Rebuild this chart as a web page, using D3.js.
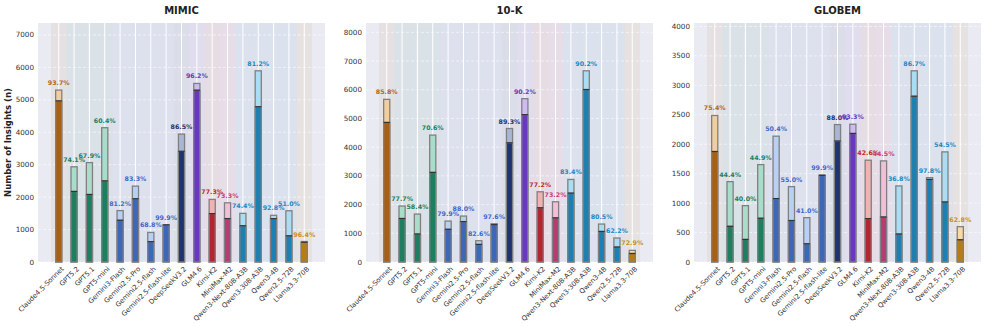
<!DOCTYPE html>
<html>
<head>
<meta charset="utf-8">
<script src="https://cdn.jsdelivr.net/npm/d3@7"></script>
<style>
  body { margin: 0; background: #fff; }
  svg { display: block; font-family: "DejaVu Sans", sans-serif; }
</style>
</head>
<body>
<div id="chart"></div>
<script>
const models = ["Claude4.5-Sonnet", "GPT5.2", "GPT5.1", "GPT5-mini", "Gemini3-Flash", "Gemini2.5-Pro",
  "Gemini2.5-flash", "Gemini2.5-flash-lite", "DeepSeekV3.2", "GLM4.6", "Kimi-K2", "MiniMax-M2",
  "Qwen3-Next-80B-A3B", "Qwen3-30B-A3B", "Qwen3-4B", "Qwen2.5-72B", "Llama3.3-70B"];
const family = ["claude", "gpt", "gpt", "gpt", "gemini", "gemini", "gemini", "gemini", "deepseek", "glm",
  "kimi", "minimax", "qwen", "qwen", "qwen", "qwen", "llama"];

// total insights / valid insights / label
const mimicTotal = [5300, 2935, 3065, 4140, 1585, 2340, 912, 1145, 3945, 5505, 1930, 1825, 1500, 5895, 1440, 1580, 632];
const mimicValid = [4966, 2175, 2081, 2500, 1287, 1949, 627, 1144, 3412, 5296, 1492, 1338, 1116, 4787, 1336, 806, 609];
const mimicPct = ["93.7%", "74.1%", "67.9%", "60.4%", "81.2%", "83.3%", "68.8%", "99.9%", "86.5%", "96.2%", "77.3%", "73.3%", "74.4%", "81.2%", "92.8%", "51.0%", "96.4%"];

const tenkTotal = [5665, 1950, 1670, 4420, 1426, 1600, 742, 1332, 4650, 5690, 2446, 2098, 2876, 6660, 1322, 836, 406];
const tenkValid = [4861, 1515, 975, 3121, 1139, 1408, 613, 1300, 4152, 5132, 1888, 1536, 2399, 6007, 1064, 520, 296];
const tenkPct = ["85.8%", "77.7%", "58.4%", "70.6%", "79.9%", "88.0%", "82.6%", "97.6%", "89.3%", "90.2%", "77.2%", "73.2%", "83.4%", "90.2%", "80.5%", "62.2%", "72.9%"];

const globemTotal = [2488, 1365, 957, 1654, 2137, 1280, 753, 1474, 2334, 2340, 1729, 1717, 1292, 3247, 1433, 1870, 600];
const globemValid = [1876, 606, 383, 743, 1077, 704, 309, 1472, 2054, 2183, 737, 764, 475, 2815, 1402, 1019, 377];
const globemPct = ["75.4%", "44.4%", "40.0%", "44.9%", "50.4%", "55.0%", "41.0%", "99.9%", "88.0%", "93.3%", "42.6%", "44.5%", "36.8%", "86.7%", "97.8%", "54.5%", "62.8%"];

const panels = [
  { title: "MIMIC", total: mimicTotal, valid: mimicValid, pct: mimicPct, ticks: d3.range(0, 7001, 1000) },
  { title: "10-K", total: tenkTotal, valid: tenkValid, pct: tenkPct, ticks: d3.range(0, 8001, 1000) },
  { title: "GLOBEM", total: globemTotal, valid: globemValid, pct: globemPct, ticks: d3.range(0, 4001, 500) }
];

const colors = {
  claude:   { dark: "#a85f14", light: "#f4cca2", text: "#b4661c" },
  gpt:      { dark: "#1d7f60", light: "#a9dcc9", text: "#1b8060" },
  gemini:   { dark: "#3c68b8", light: "#b9d0f4", text: "#3d6bc8" },
  deepseek: { dark: "#1f3370", light: "#aab5d2", text: "#1f3370" },
  glm:      { dark: "#6a38c0", light: "#cfbaf2", text: "#6a38c0" },
  kimi:     { dark: "#b4252f", light: "#f2b2b2", text: "#c0282e" },
  minimax:  { dark: "#b83c74", light: "#f4bdd8", text: "#c8407a" },
  qwen:     { dark: "#1b80b2", light: "#aadcf3", text: "#1e88c0" },
  llama:    { dark: "#b87c16", light: "#fbd9a2", text: "#c89020" }
};

const W = 986, H = 327;
const axW = 287, plotTop = 23, plotBottom = 262;
const lefts = [38, 366, 694];

const svg = d3.select("#chart").append("svg")
  .attr("width", W).attr("height", H);

panels.forEach((p, k) => {
  const left = lefts[k];
  const x = d3.scaleLinear().domain([-1.35, models.length - 1 + 1.35]).range([left, left + axW]);
  const ymax = d3.max(p.total) * 1.25;
  const y = d3.scaleLinear().domain([0, ymax]).range([plotBottom, plotTop]);
  const slot = x(1) - x(0);
  const bw = slot * 0.4;

  const g = svg.append("g");

  g.append("rect")
    .attr("x", left).attr("y", plotTop)
    .attr("width", axW).attr("height", plotBottom - plotTop)
    .attr("fill", "#eaeaf2");

  // family bands
  g.selectAll(".band").data(models).enter().append("rect")
    .attr("x", (d, i) => x(i - 0.5))
    .attr("y", plotTop)
    .attr("width", slot)
    .attr("height", plotBottom - plotTop)
    .attr("fill", (d, i) => colors[family[i]].dark)
    .attr("fill-opacity", 0.07);

  // grid
  g.selectAll(".hgrid").data(p.ticks).enter().append("line")
    .attr("x1", left).attr("x2", left + axW)
    .attr("y1", d => y(d)).attr("y2", d => y(d))
    .attr("stroke", "#fff").attr("stroke-opacity", 0.7)
    .attr("stroke-width", 0.8).attr("stroke-dasharray", "3,2");
  g.selectAll(".vgrid").data(models).enter().append("line")
    .attr("x1", (d, i) => x(i)).attr("x2", (d, i) => x(i))
    .attr("y1", plotTop).attr("y2", plotBottom)
    .attr("stroke", "#fff").attr("stroke-width", 1);

  // total bars
  g.selectAll(".tot").data(p.total).enter().append("rect")
    .attr("x", (d, i) => x(i) - bw / 2)
    .attr("y", d => y(d))
    .attr("width", bw)
    .attr("height", d => plotBottom - y(d))
    .attr("fill", (d, i) => colors[family[i]].light)
    .attr("stroke", "#808080").attr("stroke-width", 1.3);

  // valid bars
  g.selectAll(".val").data(p.valid).enter().append("rect")
    .attr("x", (d, i) => x(i) - bw / 2)
    .attr("y", d => y(d))
    .attr("width", bw)
    .attr("height", d => plotBottom - y(d))
    .attr("fill", (d, i) => colors[family[i]].dark)
    .attr("stroke", "#808080").attr("stroke-width", 1.3);

  g.selectAll(".sep").data(p.valid).enter().append("line")
    .attr("x1", (d, i) => x(i) - bw / 2).attr("x2", (d, i) => x(i) + bw / 2)
    .attr("y1", d => y(d)).attr("y2", d => y(d))
    .attr("stroke", "#333").attr("stroke-width", 1.2);

  // percentage labels
  g.selectAll(".pct").data(p.pct).enter().append("text")
    .attr("x", (d, i) => x(i))
    .attr("y", (d, i) => y(p.total[i]) - 5)
    .attr("text-anchor", "middle")
    .attr("font-size", 6.3).attr("font-weight", "bold")
    .attr("fill", (d, i) => colors[family[i]].text)
    .text(d => d);

  // y axis labels
  g.selectAll(".ytick").data(p.ticks).enter().append("text")
    .attr("x", left - 4)
    .attr("y", d => y(d))
    .attr("dy", "0.35em")
    .attr("text-anchor", "end")
    .attr("font-size", 7.2).attr("fill", "#333")
    .text(d => d);

  // x axis labels
  g.selectAll(".xtick").data(models).enter().append("text")
    .attr("transform", (d, i) => `translate(${x(i) + 3},${plotBottom + 5}) rotate(-45)`)
    .attr("text-anchor", "end")
    .attr("dy", "0.5em")
    .attr("font-size", 6.8).attr("fill", "#333")
    .text(d => d);

  g.append("text")
    .attr("x", left + axW / 2).attr("y", 14)
    .attr("text-anchor", "middle")
    .attr("font-size", 10).attr("font-weight", "bold").attr("fill", "#222")
    .text(p.title);
});

svg.append("text")
  .attr("transform", `translate(11,${(plotTop + plotBottom) / 2}) rotate(-90)`)
  .attr("text-anchor", "middle")
  .attr("font-size", 8.5).attr("font-weight", "bold").attr("fill", "#222")
  .text("Number of Insights (n)");
</script>
</body>
</html>
